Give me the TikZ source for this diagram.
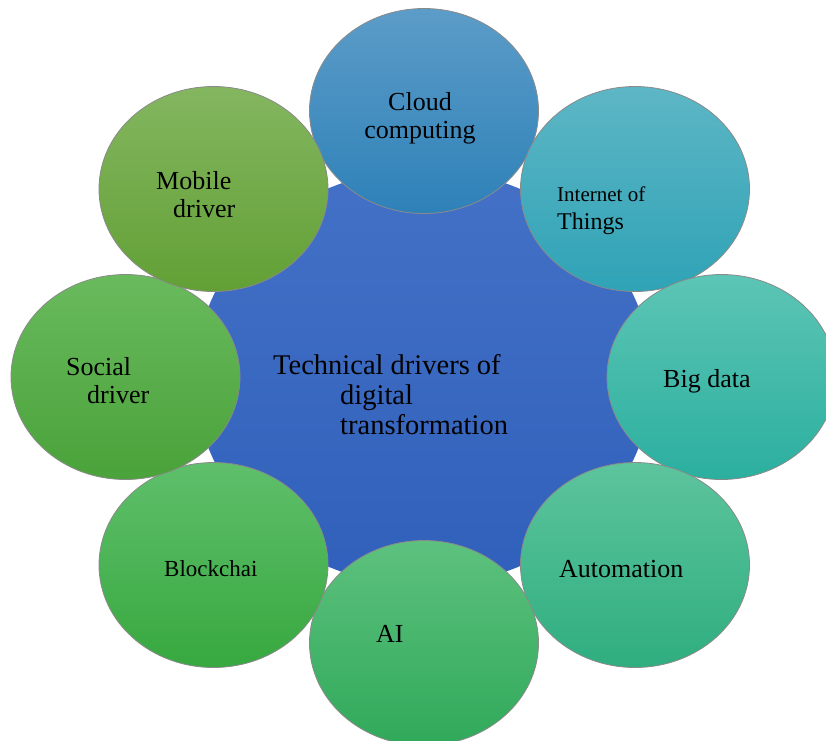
\documentclass[tikz,border=0pt]{standalone}
\usepackage{fontspec}
\setmainfont{Liberation Serif}
\usepackage{tikz}
\usetikzlibrary{shapes.geometric}

\definecolor{rim}{HTML}{8A8A8A}
\definecolor{hubtop}{HTML}{4471C7}
\definecolor{hubbot}{HTML}{3060BB}
\definecolor{cloudtop}{HTML}{5C9CC8}
\definecolor{cloudbot}{HTML}{2E81B8}
\definecolor{iottop}{HTML}{5DB6C5}
\definecolor{iotbot}{HTML}{2FA3B6}
\definecolor{datatop}{HTML}{5DC5B5}
\definecolor{databot}{HTML}{2BAF9F}
\definecolor{autotop}{HTML}{5DC49D}
\definecolor{autobot}{HTML}{2FAE7F}
\definecolor{aitop}{HTML}{5DC17E}
\definecolor{aibot}{HTML}{30A95A}
\definecolor{chaintop}{HTML}{5FBF6B}
\definecolor{chainbot}{HTML}{37A83F}
\definecolor{socialtop}{HTML}{69BA5D}
\definecolor{socialbot}{HTML}{4AA23A}
\definecolor{mobiletop}{HTML}{84B660}
\definecolor{mobilebot}{HTML}{62A035}

\begin{document}
\begin{tikzpicture}[x=1pt, y=-1pt,
  bubble/.style={ellipse, draw=rim, line width=0.8pt, minimum width=229pt, minimum height=205pt, inner sep=0pt},
  txt/.style={align=left, anchor=base west, inner sep=0pt, font=\fontsize{26}{28}\selectfont}]
  \useasboundingbox (0,0) rectangle (826,740);
  \clip (0,0) rectangle (826,740);

  \node[ellipse, minimum width=457pt, minimum height=416pt, inner sep=0pt,
        top color=hubtop, bottom color=hubbot] (hub) at (423.5,377.5) {};

  \node[bubble, top color=cloudtop, bottom color=cloudbot] (cloud) at (424,111) {};
  \node[bubble, top color=iottop, bottom color=iotbot] (iot) at (635,189) {};
  \node[bubble, top color=datatop, bottom color=databot] (data) at (721.5,377) {};
  \node[bubble, top color=autotop, bottom color=autobot] (auto) at (635,565) {};
  \node[bubble, top color=aitop, bottom color=aibot] (ai) at (424,643) {};
  \node[bubble, top color=chaintop, bottom color=chainbot] (chain) at (213.5,565) {};
  \node[bubble, top color=socialtop, bottom color=socialbot] (social) at (125.5,377) {};
  \node[bubble, top color=mobiletop, bottom color=mobilebot] (mobile) at (213.5,189) {};

  % labels (multi-line ones sit on the baseline of their last line)
  \node[txt, font=\fontsize{28.5}{30}\selectfont] (hubtxt) at (273,434)
    {Technical drivers of\\\hspace*{67pt}digital\\\hspace*{67pt}transformation};
  \node[txt, align=center, anchor=base] (cloudtxt) at (420,138) {Cloud\\computing};
  \node[txt, font=\fontsize{24}{28}\selectfont] (iottxt) at (557,229)
    {{\fontsize{21}{28}\selectfont Internet of}\\Things};
  \node[txt] (datatxt) at (663,387) {Big data};
  \node[txt] (autotxt) at (559,577) {Automation};
  \node[txt] (aitxt) at (376,642) {AI};
  \node[txt, font=\fontsize{23}{28}\selectfont] (chaintxt) at (164,576) {Blockchai};
  \node[txt] (socialtxt) at (66,403) {Social\\\hspace*{21pt}driver};
  \node[txt] (mobiletxt) at (156,217) {Mobile\\\hspace*{17pt}driver};
\end{tikzpicture}
\end{document}
